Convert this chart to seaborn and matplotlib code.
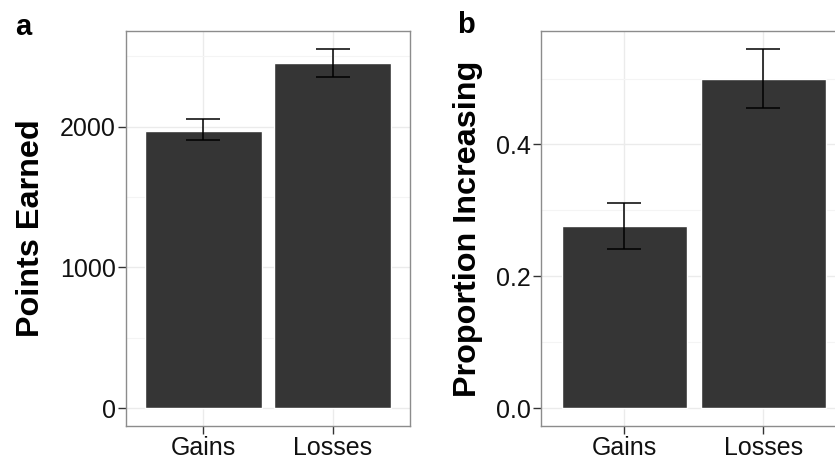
import numpy as np
import pandas as pd
import matplotlib
matplotlib.use("Agg")
import matplotlib.pyplot as plt
from matplotlib.ticker import MultipleLocator
import seaborn as sns

# values
conditions = ["Gains", "Losses"]
points_mean = [1969, 2449]
points_lo = [1901, 2352]
points_hi = [2050, 2551]
prop_mean = [0.276, 0.500]
prop_lo = [0.241, 0.456]
prop_hi = [0.311, 0.545]

sns.set_theme(style="white")
plt.rcParams["font.family"] = ["Liberation Sans", "DejaVu Sans"]

fig = plt.figure(figsize=(8.35, 4.59), dpi=100)
ax_a = fig.add_axes([0.1509, 0.0719, 0.3402, 0.8606])
ax_b = fig.add_axes([0.6479, 0.0719, 0.3661, 0.8606])

bar_color = "#353535"


def panel(ax, means, lo, hi, ylabel, major, label_x):
    df = pd.DataFrame({"cond": conditions, "val": means})
    sns.barplot(data=df, x="cond", y="val", color=bar_color, width=0.9,
                saturation=1, errorbar=None, ax=ax, zorder=2)
    means = np.array(means)
    err = [means - np.array(lo), np.array(hi) - means]
    ax.errorbar(range(len(conditions)), means, yerr=err, fmt="none",
                ecolor="black", elinewidth=1.1, capsize=12.5, capthick=1.1,
                zorder=3)
    top = max(hi) * 1.05
    ax.set_ylim(-max(hi) * 0.05, top)
    ax.set_xlim(-0.6, 1.6)
    ax.yaxis.set_major_locator(MultipleLocator(major))
    ax.yaxis.set_minor_locator(MultipleLocator(major / 2))
    ax.grid(True, which="major", color="#ebebeb", lw=1, zorder=0)
    ax.grid(True, which="minor", axis="y", color="#f4f4f4", lw=0.8, zorder=0)
    ax.set_axisbelow(True)
    for s in ax.spines.values():
        s.set_color("#8c8c8c")
        s.set_linewidth(1)
    ax.tick_params(axis="both", which="major", length=6, width=1,
                   color="#333333", labelsize=18, labelcolor="#111111",
                   left=True, bottom=True, pad=1.5)
    ax.tick_params(axis="y", which="minor", length=0)
    ax.set_xlabel("")
    ax.set_ylabel(ylabel, fontsize=23.3, fontweight="bold", color="black")
    ax.yaxis.set_label_coords(label_x, 0.5)


panel(ax_a, points_mean, points_lo, points_hi, "Points Earned", 1000, -0.282)
panel(ax_b, prop_mean, prop_lo, prop_hi, "Proportion Increasing", 0.2, -0.19)
ax_b.yaxis.set_major_formatter(matplotlib.ticker.FormatStrFormatter("%.1f"))

fig.text(0.018, 0.924, "a", fontsize=21, fontweight="bold", va="baseline",
         color="black")
fig.text(0.547, 0.928, "b", fontsize=21, fontweight="bold", va="baseline",
         color="black")

fig.savefig("out.png", dpi=100)
